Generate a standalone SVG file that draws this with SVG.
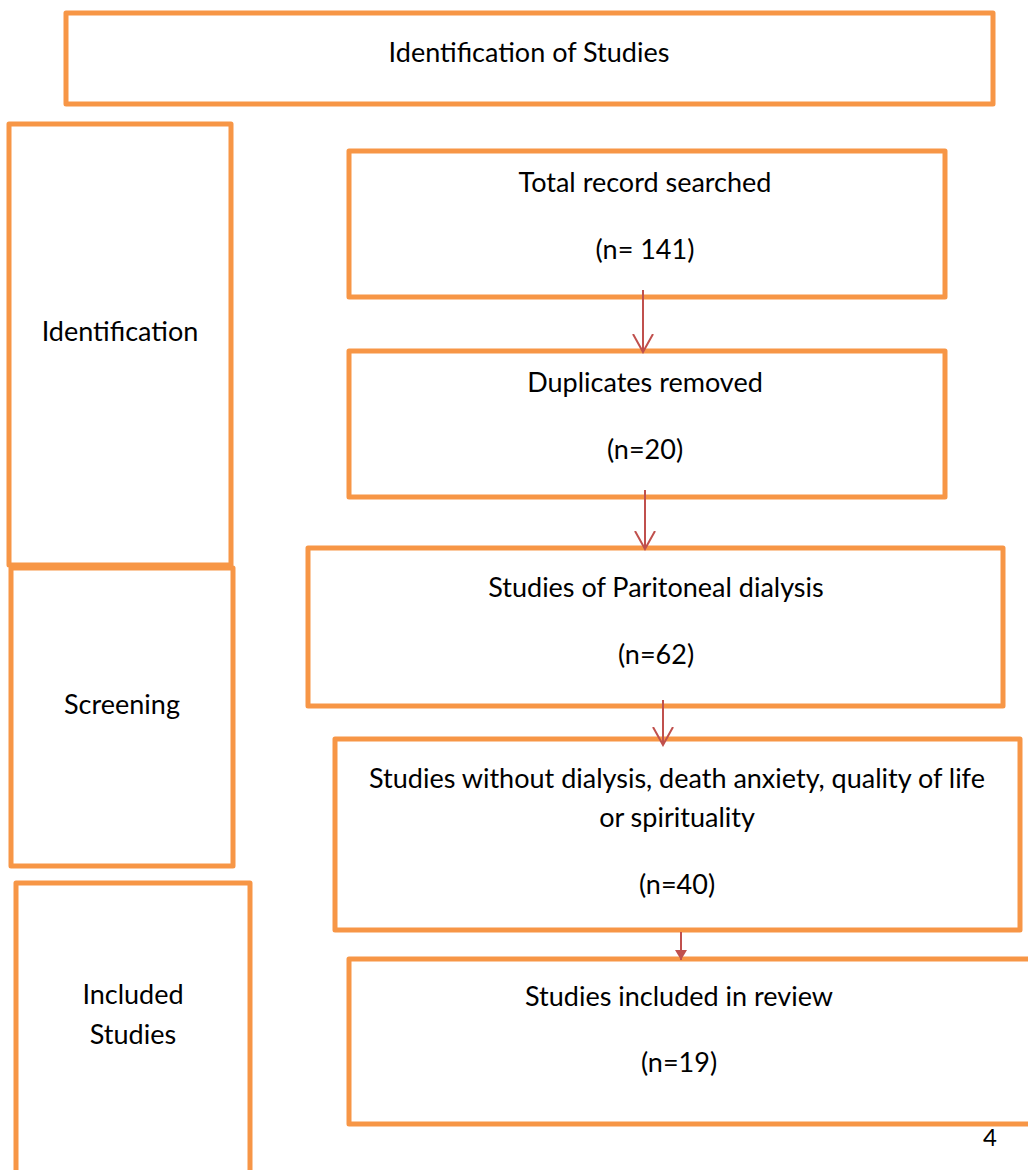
<svg xmlns="http://www.w3.org/2000/svg" width="1028" height="1170" viewBox="0 0 1028 1170">
<defs>
<style>
.box{fill:#fff;stroke:#F79646;stroke-width:5;stroke-linejoin:round}
.t{font-family:"Lato","Liberation Sans",sans-serif;font-size:27px;fill:#000;text-anchor:middle}
.conn{stroke:#C0504D;stroke-width:2;fill:none}
</style>
<marker id="open" viewBox="0 0 20 22" refX="18" refY="11" markerWidth="20" markerHeight="22" markerUnits="userSpaceOnUse" orient="auto">
<path d="M0,1 L18,11 L0,21" fill="none" stroke="#C0504D" stroke-width="2"/>
</marker>
<marker id="fill" viewBox="0 0 10 12" refX="10" refY="6" markerWidth="10" markerHeight="12" markerUnits="userSpaceOnUse" orient="auto">
<path d="M0,0 L10,6 L0,12 Z" fill="#C0504D"/>
</marker>
</defs>
<rect width="1028" height="1170" fill="#fff"/>
<g id="header"><rect class="box" x="66" y="13" width="927" height="91"/><text class="t" x="529" y="62">Identification of Studies</text></g>
<g id="stage-identification"><rect class="box" x="9" y="124" width="222" height="441"/><text class="t" x="120" y="341">Identification</text></g>
<g id="stage-screening"><rect class="box" x="11" y="568" width="222" height="298"/><text class="t" x="122" y="714">Screening</text></g>
<g id="stage-included"><rect class="box" x="16" y="883" width="234" height="300"/><text class="t" x="133" y="1004">Included</text><text class="t" x="133" y="1044">Studies</text></g>
<g id="total"><rect class="box" x="349" y="151" width="596" height="146"/><text class="t" x="645" y="192">Total record searched</text><text class="t" x="645" y="259">(n= 141)</text></g>
<g id="duplicates"><rect class="box" x="349" y="351" width="596" height="146"/><text class="t" x="645" y="392">Duplicates removed</text><text class="t" x="645" y="459">(n=20)</text></g>
<g id="paritoneal"><rect class="box" x="308" y="548" width="695" height="158"/><text class="t" x="656" y="597">Studies of Paritoneal dialysis</text><text class="t" x="656" y="664">(n=62)</text></g>
<g id="without"><rect class="box" x="335" y="739" width="685" height="191"/><text class="t" x="677" y="788">Studies without dialysis, death anxiety, quality of life</text><text class="t" x="677" y="827">or spirituality</text><text class="t" x="677" y="894">(n=40)</text></g>
<g id="included"><rect class="box" x="349" y="959" width="700" height="165"/><text class="t" x="679" y="1006">Studies included in review</text><text class="t" x="679" y="1072">(n=19)</text></g>
<g id="connectors">
<line class="conn" x1="643" y1="290" x2="643" y2="352" marker-end="url(#open)"/>
<line class="conn" x1="645" y1="490" x2="645" y2="549" marker-end="url(#open)"/>
<line class="conn" x1="663" y1="700" x2="663" y2="745" marker-end="url(#open)"/>
<line class="conn" x1="681" y1="932" x2="681" y2="960" marker-end="url(#fill)"/>
</g>
<text x="990" y="1146" style="font-family:'Lato','Liberation Sans',sans-serif;font-size:24px;text-anchor:middle">4</text>
</svg>
